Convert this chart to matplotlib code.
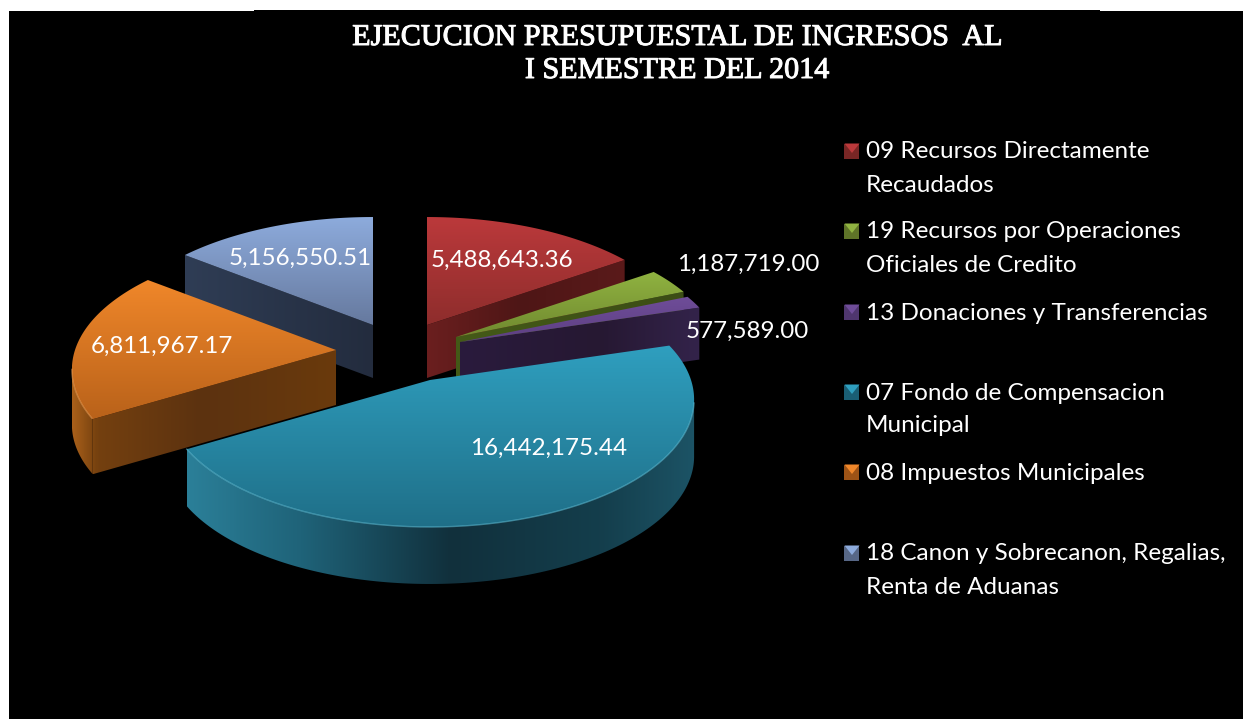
import numpy as np
import matplotlib
matplotlib.use("Agg")
import matplotlib.pyplot as plt
import matplotlib.patheffects as pe
from matplotlib.colors import LinearSegmentedColormap, to_rgb
from matplotlib.patches import Polygon, Rectangle

# ---- data ----
categories = ["09 Recursos Directamente\nRecaudados",
              "19 Recursos por Operaciones\nOficiales de Credito",
              "13 Donaciones y Transferencias",
              "07 Fondo de Compensacion\nMunicipal",
              "08 Impuestos Municipales",
              "18 Canon y Sobrecanon, Regalias,\nRenta de Aduanas"]
values = [5488643.36, 1187719.00, 577589.00, 16442175.44, 6811967.17, 5156550.51]
title_lines = ["EJECUCION PRESUPUESTAL DE INGRESOS  AL", "I SEMESTRE DEL 2014"]

# ---- style ----
W, H = 1243, 719
A, B, K = 261.0, 124.5, 0.153
DEPTH = [53, 50, 52, 57, 55, 53]
CENTERS = [(427, 325), (456, 337), (460, 342), (430, 380), (336, 350), (373, 325)]
TOP_COL = [("#bb393b", "#8e2d2c"), ("#90b341", "#70892f"), ("#6f4d99", "#5d3f82"),
           ("#2f9fbf", "#1f6f88"), ("#f0872a", "#b9621a"), ("#8dabdc", "#66799e")]
SIDE_STOPS = [
    [(427, "#6b1f1f"), (520, "#4e1616"), (625, "#5a1a1a")],
    [(456, "#445a18"), (680, "#3c4d15")],
    [(460, "#2a1b3d"), (600, "#261832"), (698, "#33234a")],
    [(187, "#2b7f98"), (300, "#1f6379"), (450, "#11303c"), (600, "#143e4c"), (694, "#1c5365")],
    [(72, "#a9601a"), (97, "#74400f"), (200, "#5c3210"), (335, "#6a3a0c")],
    [(185, "#2f3d55"), (373, "#232c3e")],
]
RIM_EDGE = [None, None, None, "#63c3dc", "#f7a65a", None]
LABEL_XY = [(502, 260), (748, 264), (747, 331), (549, 448), (162, 346), (300, 258)]
LEG_Y = [151, 231, 312, 392, 472, 553]
LEG_X_MARK, LEG_X_TEXT, LEG_STEP = 852, 866, 33
FONT = "Lato"

plt.rcParams["font.family"] = FONT
fig = plt.figure(figsize=(W / 100, H / 100), dpi=100, facecolor="white")
ax = fig.add_axes([0, 0, 1, 1])
ax.set_xlim(0, W)
ax.set_ylim(H, 0)
ax.axis("off")
ax.add_patch(Rectangle((9, 11), W, H, fc="black", ec="none", zorder=0))
ax.add_patch(Rectangle((254, 10), 846, 2, fc="black", ec="none", zorder=0))


def project(theta, c, r=1.0):
    X, Y = r * np.sin(theta), -r * np.cos(theta)
    w = 1 / (1 - K * Y)
    return np.column_stack([c[0] + A * X * w, c[1] + B * Y * w])


z = [1.0]


def grad_poly(pts, stops, horizontal=True):
    """Fill polygon pts with a gradient along x or y."""
    pts = np.asarray(pts)
    z[0] += 1
    x0, x1 = pts[:, 0].min(), pts[:, 0].max()
    y0, y1 = pts[:, 1].min(), pts[:, 1].max()
    if x1 - x0 < 0.5 or y1 - y0 < 0.5:
        return
    lo, hi = stops[0][0], stops[-1][0]
    cmap = LinearSegmentedColormap.from_list(
        "g", [((p - lo) / (hi - lo), c) for p, c in stops])
    if horizontal:
        t = (np.linspace(x0, x1, 256) - lo) / (hi - lo)
        img = cmap(np.clip(t, 0, 1))[None, :, :3]
    else:
        t = (np.linspace(y0, y1, 256) - lo) / (hi - lo)
        img = cmap(np.clip(t, 0, 1))[:, None, :3]
    poly = Polygon(pts, closed=True, transform=ax.transData, fc="none", ec="none")
    ax.add_patch(poly)
    im = ax.imshow(img, extent=(x0, x1, y1, y0), aspect="auto", zorder=z[0],
                   interpolation="bilinear")
    im.set_clip_path(poly)
    ax.set_xlim(0, W)
    ax.set_ylim(H, 0)


# wedge angles from the values, clockwise from north
fr = np.cumsum([0] + values) / np.sum(values) * 2 * np.pi


def draw_wedge(i):
    c = np.array(CENTERS[i], float)
    d = np.array([0, DEPTH[i]])
    th = np.linspace(fr[i], fr[i + 1], 160)
    arc = project(th, c)
    top = np.vstack([c, arc])
    ys = top[:, 1]
    # side faces: visible where the boundary runs leftwards on screen (clockwise path)
    faces = []
    if arc[0, 0] < c[0]:       # apex -> start
        faces.append(np.array([c, arc[0]]))
    if c[0] < arc[-1, 0]:      # end -> apex
        faces.append(np.array([arc[-1], c]))
    vis = np.diff(arc[:, 0]) < 0
    if vis.any():
        idx = np.where(vis)[0]
        faces.append(arc[idx[0]:idx[-1] + 2])
    for f in faces:
        grad_poly(np.vstack([f, (f + d)[::-1]]), SIDE_STOPS[i])
    grad_poly(top, [(ys.min(), TOP_COL[i][0]), (ys.max(), TOP_COL[i][1])], horizontal=False)
    if RIM_EDGE[i]:
        z[0] += 1
        mask = np.diff(arc[:, 0]) < 0
        ax.plot(arc[1:][mask, 0], arc[1:][mask, 1], color=RIM_EDGE[i], lw=1.0, alpha=0.55,
                zorder=z[0])


for i in [5, 0, 1, 2, 4, 3]:
    draw_wedge(i)

# value labels
for v, (x, y) in zip(values, LABEL_XY):
    ax.text(x, y, f"{v:,.2f}", color="white", fontsize=17.4, ha="center", va="center",
            zorder=1000)

# title
for j, (line, y) in enumerate(zip(title_lines, (38, 71))):
    ax.text(677, y, line, color="white", fontsize=21.7, family="Liberation Serif",
            ha="center", va="center", zorder=1000,
            path_effects=[pe.withStroke(linewidth=0.7, foreground="white")])

# legend
for i, (label, y) in enumerate(zip(categories, LEG_Y)):
    m = 7.5
    x = LEG_X_MARK
    hi, lo = TOP_COL[i]
    dark = tuple(0.85 * np.array(to_rgb(lo)))
    ax.add_patch(Rectangle((x - m, y - m), 2 * m, 2 * m, fc=dark, ec="none", zorder=1000))
    ax.add_patch(Polygon([(x - m, y - m), (x + m, y - m), (x, y + 2)], fc=hi, ec="none", zorder=1001))
    for k, part in enumerate(label.split("\n")):
        ax.text(LEG_X_TEXT, y + 1 + k * LEG_STEP, part, color="white", fontsize=17.5,
                ha="left", va="center", zorder=1000)

fig.savefig("out.png", dpi=100, facecolor="white")
